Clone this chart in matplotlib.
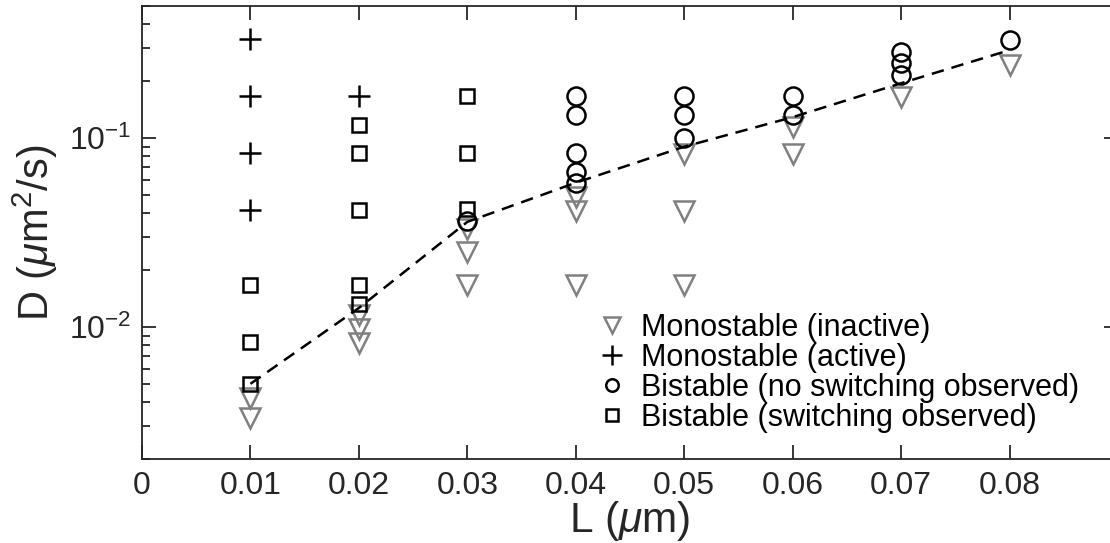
import matplotlib
matplotlib.use("Agg")
import matplotlib.pyplot as plt
from matplotlib.lines import Line2D
from matplotlib.ticker import LogLocator, FixedLocator

plt.rcParams['font.family'] = ['Liberation Sans', 'DejaVu Sans']
plt.rcParams['mathtext.fontset'] = 'custom'
plt.rcParams['mathtext.rm'] = 'Liberation Sans'
plt.rcParams['mathtext.it'] = 'Liberation Sans:italic'
plt.rcParams['mathtext.default'] = 'regular'

# ---- data ----
inactive_L = [0.01, 0.01, 0.02, 0.02, 0.02, 0.03, 0.03, 0.03, 0.04, 0.04, 0.04,
              0.05, 0.05, 0.05, 0.06, 0.06, 0.07, 0.08]
inactive_D = [0.0042, 0.0033, 0.0116, 0.0098, 0.0082, 0.033, 0.025, 0.0167,
              0.049, 0.041, 0.0167, 0.082, 0.041, 0.0167, 0.114, 0.082, 0.165, 0.245]

active_L = [0.01, 0.01, 0.01, 0.01, 0.02]
active_D = [0.333, 0.167, 0.0833, 0.0417, 0.167]

noswitch_L = [0.03, 0.04, 0.04, 0.04, 0.04, 0.04, 0.05, 0.05, 0.05, 0.06, 0.06,
              0.07, 0.07, 0.07, 0.08]
noswitch_D = [0.0364, 0.167, 0.132, 0.083, 0.066, 0.058, 0.167, 0.132, 0.1,
              0.167, 0.132, 0.285, 0.249, 0.216, 0.33]

switch_L = [0.01, 0.01, 0.01, 0.02, 0.02, 0.02, 0.02, 0.02, 0.03, 0.03, 0.03]
switch_D = [0.0167, 0.0083, 0.005, 0.117, 0.083, 0.0417, 0.0167, 0.0132,
            0.167, 0.083, 0.042]

boundary_L = [0.01, 0.02, 0.03, 0.04, 0.05, 0.06, 0.07, 0.08]
boundary_D = [0.005, 0.0126, 0.036, 0.058, 0.09, 0.129, 0.195, 0.292]

labels = ['Monostable (inactive)', 'Monostable (active)',
          'Bistable (no switching observed)', 'Bistable (switching observed)']
xticks = [0, 0.01, 0.02, 0.03, 0.04, 0.05, 0.06, 0.07, 0.08]
xticklabels = ['0', '0.01', '0.02', '0.03', '0.04', '0.05', '0.06', '0.07', '0.08']

# ---- figure ----
fig = plt.figure(figsize=(11.10, 5.43), dpi=100)
ax = fig.add_axes([142/1110, 1 - 459/543, (1118 - 142)/1110, (459 - 6)/543])

gray = '#808080'
mew = 1.8
ax.plot(inactive_L, inactive_D, linestyle='none', marker='v', ms=14,
        mfc='none', mec=gray, mew=mew, zorder=3)
ax.plot(active_L, active_D, linestyle='none', marker='+', ms=16,
        mec='black', mew=mew, zorder=3)
ax.plot(noswitch_L, noswitch_D, linestyle='none', marker='o', ms=13,
        mfc='none', mec='black', mew=mew, zorder=3)
ax.plot(switch_L, switch_D, linestyle='none', marker='s', ms=10.5,
        mfc='none', mec='black', mew=mew, zorder=3)
ax.plot(boundary_L, boundary_D, color='black', lw=1.8,
        linestyle=(0, (5, 3.2)), zorder=4)

ax.set_yscale('log')
ax.set_xlim(0, 0.09)
ax.set_ylim(0.002, 0.5)
ax.xaxis.set_major_locator(FixedLocator(xticks))
ax.set_xticklabels(xticklabels)
ax.yaxis.set_major_locator(LogLocator(base=10, numticks=10))
ax.yaxis.set_minor_locator(LogLocator(base=10, subs=range(2, 10), numticks=10))

tcol = '#262626'
for s in ax.spines.values():
    s.set_color(tcol)
    s.set_linewidth(1.3)
ax.tick_params(which='both', direction='in', top=True, right=True,
               colors=tcol, width=1.3, labelsize=23, labelcolor=tcol)
ax.tick_params(which='major', length=10, pad=9)
ax.tick_params(which='minor', length=6)
ax.tick_params(axis='y', pad=8)

ax.set_xlabel(r'L ($\mathit{\mu}$m)', fontsize=30.5, color=tcol, labelpad=-1.5)
ax.set_ylabel(r'D ($\mathit{\mu}$m$^2$/s)', fontsize=30, color=tcol, labelpad=6)

handles = [
    Line2D([], [], linestyle='none', marker='v', ms=12, mfc='none', mec=gray, mew=mew),
    Line2D([], [], linestyle='none', marker='+', ms=15, mec='black', mew=mew),
    Line2D([], [], linestyle='none', marker='o', ms=9, mfc='none', mec='black', mew=mew),
    Line2D([], [], linestyle='none', marker='s', ms=8, mfc='none', mec='black', mew=mew),
]
leg = ax.legend(handles, labels, loc='upper left',
                bbox_to_anchor=((600 - 142)/976, 1 - (313 - 6)/453),
                frameon=False, fontsize=22, handlelength=0.8, handletextpad=0.55,
                labelspacing=0.0, borderaxespad=0, borderpad=0)

fig.savefig('out.png', dpi=100)
